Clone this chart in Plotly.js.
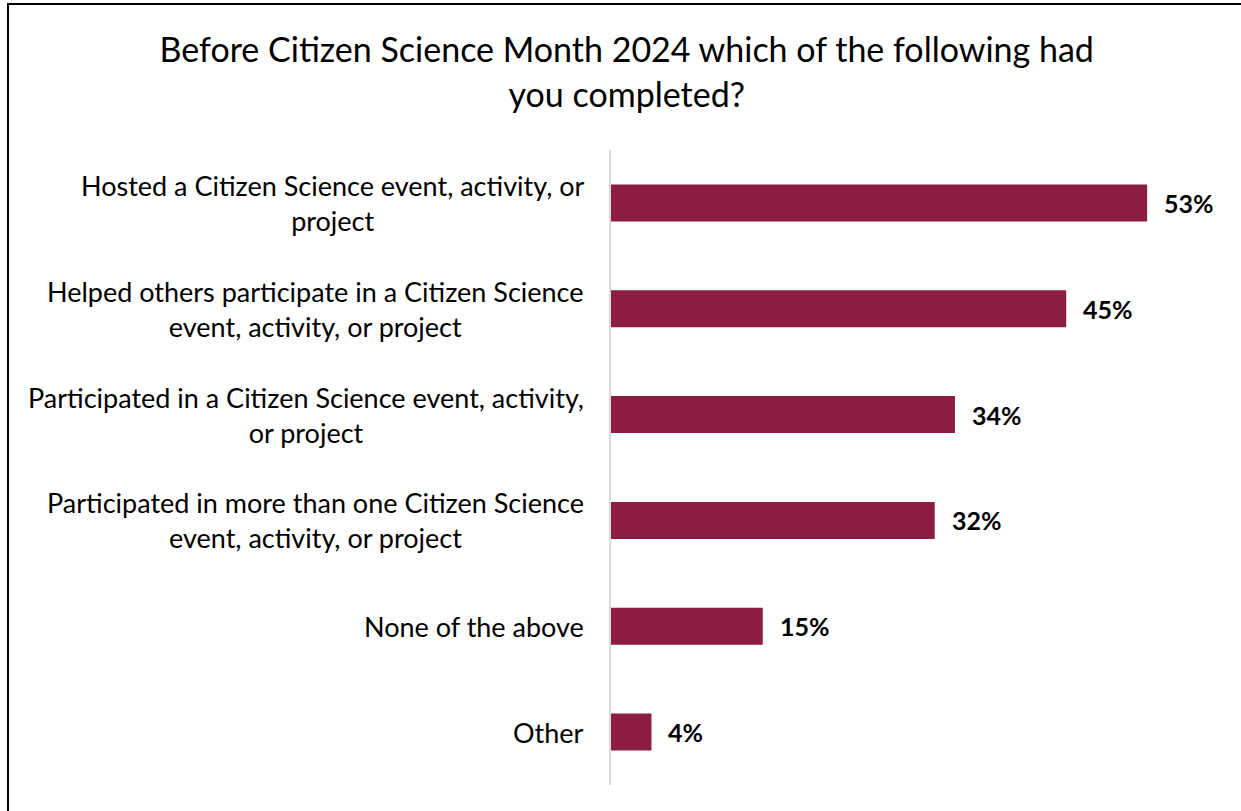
<!DOCTYPE html>
<html>
<head>
<meta charset="utf-8">
<script src="https://cdn.plot.ly/plotly-3.0.1.min.js"></script>
<style>
  html, body { margin: 0; padding: 0; background: #fff; }
  #chart { width: 1241px; height: 811px; }
  #frame { position: absolute; left: 7px; top: 3px; width: 1250px; height: 820px;
           border-top: 2px solid #000; border-left: 2px solid #000; pointer-events: none; }
</style>
</head>
<body>
<div id="chart"></div>
<div id="frame"></div>
<script>
const categories = [
  "Hosted a Citizen Science event, activity, or<br>project",
  "Helped others participate in a Citizen Science<br>event, activity, or project",
  "Participated in a Citizen Science event, activity,<br>or project",
  "Participated in more than one Citizen Science<br>event, activity, or project",
  "None of the above",
  "Other"
];
const values = [53, 45, 34, 32, 15, 4];
const valueLabels = ["53%", "45%", "34%", "32%", "15%", "4%"];
const titleText = "Before Citizen Science Month 2024 which of the following had<br>you completed?";

const FONT = "Lato, 'Open Sans', sans-serif";
const barColor = "#8C1D40";

const trace = {
  type: "bar",
  orientation: "h",
  x: values,
  y: categories,
  width: 0.35,
  marker: { color: barColor },
  hoverinfo: "none"
};

const catAnnotations = categories.map(c => ({
  xref: "paper", yref: "y",
  x: 0, y: c,
  xanchor: "right", yanchor: "middle",
  xshift: -25,
  align: "center",
  text: c,
  showarrow: false,
  font: { family: FONT, size: 27, color: "#000" }
}));

const valAnnotations = values.map((v, i) => ({
  xref: "x", yref: "y",
  x: v, y: categories[i],
  xanchor: "left", yanchor: "middle",
  xshift: 15,
  text: "<b>" + valueLabels[i] + "</b>",
  showarrow: false,
  font: { family: FONT, size: 25, color: "#000" }
}));

const layout = {
  width: 1241, height: 811,
  margin: { l: 611, r: 20, t: 150, b: 26 },
  paper_bgcolor: "#fff", plot_bgcolor: "#fff",
  showlegend: false,
  title: {
    text: titleText,
    font: { family: FONT, size: 34, color: "#000" },
    x: 0.505, xanchor: "center",
    y: 0.923, yanchor: "top"
  },
  xaxis: {
    range: [0, 60.3],
    showgrid: false, zeroline: false, showticklabels: false, ticks: "", showline: false
  },
  yaxis: {
    autorange: "reversed",
    showgrid: false, zeroline: false, showticklabels: false, ticks: "",
    showline: true, linecolor: "#d9d9d9", linewidth: 2
  },
  annotations: catAnnotations.concat(valAnnotations),
  bargap: 0.65
};

Plotly.newPlot("chart", [trace], layout, { staticPlot: true, displayModeBar: false });
</script>
</body>
</html>
